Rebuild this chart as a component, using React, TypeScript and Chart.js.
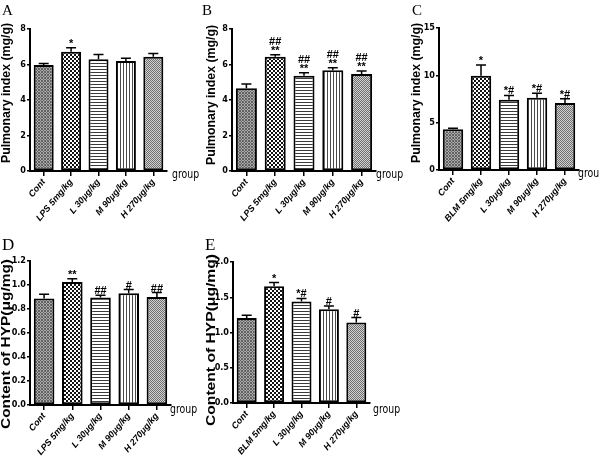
import React, { useEffect, useRef } from "react";
import { Chart, registerables } from "chart.js";
Chart.register(...registerables);

// ---------- data ----------
const groupsLPS = ["Cont", "LPS 5mg/kg", "L 30μg/kg", "M 90μg/kg", "H 270μg/kg"];
const groupsBLM = ["Cont", "BLM 5mg/kg", "L 30μg/kg", "M 90μg/kg", "H 270μg/kg"];

const valuesA = [5.97, 6.72, 6.29, 6.2, 6.44];
const semA = [0.09, 0.23, 0.28, 0.15, 0.18];
const marksA = ["", "*", "", "", ""];

const valuesB = [4.66, 6.44, 5.37, 5.67, 5.46];
const semB = [0.24, 0.11, 0.17, 0.15, 0.17];
const marksB = ["", "##\n**", "##\n**", "##\n**", "##\n**"];

const valuesC = [4.3, 9.95, 7.41, 7.62, 7.09];
const semC = [0.11, 1.15, 0.46, 0.5, 0.43];
const marksC = ["", "*", "*#", "*#", "*#"];

const valuesD = [0.888, 1.025, 0.896, 0.932, 0.901];
const semD = [0.035, 0.027, 0.019, 0.03, 0.036];
const marksD = ["", "**", "##", "#", "##"];

const valuesE = [1.207, 1.657, 1.441, 1.329, 1.141];
const semE = [0.037, 0.052, 0.043, 0.047, 0.07];
const marksE = ["", "*", "*#", "#", "#"];

const patternKinds = ["cont", "check", "hlines", "vlines", "hatch"];

// ---------- layout / style ----------
type Box = { left: number; top: number; width: number; height: number };
type PanelCfg = {
  id: string;
  labels: string[];
  values: number[];
  sem: number[];
  marks: string[];
  yMax: number;
  yStep: number;
  decimals: number;
  title: string;
  titleSize: number;
  titleLen: number;
  letterSize: number;
  box: Box;
  area: { left: number; right: number; top: number; bottom: number };
  titlePos: { x: number; y: number };
  letterPos: { x: number; y: number };
  groupPos: { x: number; y: number };
};

const panels: PanelCfg[] = [
  {
    id: "A", labels: groupsLPS, values: valuesA, sem: semA, marks: marksA,
    yMax: 8, yStep: 2, decimals: 0, title: "Pulmonary index (mg/g)", titleSize: 12, titleLen: 140, letterSize: 15,
    box: { left: 0, top: 0, width: 200, height: 230 },
    area: { left: 30, right: 167, top: 29, bottom: 171 },
    titlePos: { x: 7, y: 93 }, letterPos: { x: 2, y: 15 }, groupPos: { x: 172, y: 178 },
  },
  {
    id: "B", labels: groupsLPS, values: valuesB, sem: semB, marks: marksB,
    yMax: 8, yStep: 2, decimals: 0, title: "Pulmonary index (mg/g)", titleSize: 12, titleLen: 140, letterSize: 15,
    box: { left: 195, top: 0, width: 215, height: 230 },
    area: { left: 232, right: 376, top: 29, bottom: 171 },
    titlePos: { x: 212, y: 95 }, letterPos: { x: 202, y: 15 }, groupPos: { x: 376, y: 178 },
  },
  {
    id: "C", labels: groupsBLM, values: valuesC, sem: semC, marks: marksC,
    yMax: 15, yStep: 5, decimals: 0, title: "Pulmonary index (mg/g)", titleSize: 12, titleLen: 140, letterSize: 15,
    box: { left: 390, top: 0, width: 210, height: 230 },
    area: { left: 439, right: 579, top: 28, bottom: 170 },
    titlePos: { x: 417, y: 93 }, letterPos: { x: 412, y: 15 }, groupPos: { x: 578, y: 177 },
  },
  {
    id: "D", labels: groupsLPS, values: valuesD, sem: semD, marks: marksD,
    yMax: 1.2, yStep: 0.2, decimals: 1, title: "Content of HYP(μg/mg)", titleSize: 13, titleLen: 170, letterSize: 17,
    box: { left: 0, top: 230, width: 200, height: 234 },
    area: { left: 30, right: 171, top: 261, bottom: 405 },
    titlePos: { x: 6, y: 344 }, letterPos: { x: 2, y: 250 }, groupPos: { x: 170, y: 413 },
  },
  {
    id: "E", labels: groupsBLM, values: valuesE, sem: semE, marks: marksE,
    yMax: 2.0, yStep: 0.5, decimals: 1, title: "Content of HYP(μg/mg)", titleSize: 13, titleLen: 172, letterSize: 17,
    box: { left: 200, top: 230, width: 220, height: 234 },
    area: { left: 233, right: 370, top: 262, bottom: 403 },
    titlePos: { x: 211, y: 340 }, letterPos: { x: 205, y: 250 }, groupPos: { x: 373, y: 413 },
  },
];

function makePattern(ctx: CanvasRenderingContext2D, kind: string): CanvasPattern | string {
  const t = document.createElement("canvas");
  const g = t.getContext("2d");
  if (!g) return "#999";
  const px = (x: number, y: number, c: string) => { g.fillStyle = c; g.fillRect(x, y, 1, 1); };
  if (kind === "cont") {
    t.width = 3; t.height = 3;
    g.fillStyle = "#aaaaaa"; g.fillRect(0, 0, 3, 3);
    for (let y = 0; y < 3; y++) for (let x = 0; x < 3; x++) if (x === y || x + y === 2) px(x, y, "#626262");
  } else if (kind === "check") {
    t.width = 4; t.height = 4;
    g.fillStyle = "#fff"; g.fillRect(0, 0, 4, 4);
    g.fillStyle = "#111"; g.fillRect(0, 0, 2, 2); g.fillRect(2, 2, 2, 2);
  } else if (kind === "hlines") {
    t.width = 3; t.height = 3;
    g.fillStyle = "#fff"; g.fillRect(0, 0, 3, 3);
    g.fillStyle = "#3a3a3a"; g.fillRect(0, 0, 3, 1);
  } else if (kind === "vlines") {
    t.width = 3; t.height = 3;
    g.fillStyle = "#fff"; g.fillRect(0, 0, 3, 3);
    g.fillStyle = "#4a4a4a"; g.fillRect(0, 0, 1, 3);
  } else {
    t.width = 2; t.height = 2;
    g.fillStyle = "#d2d2d2"; g.fillRect(0, 0, 2, 2);
    px(0, 0, "#6e6e6e"); px(1, 1, "#6e6e6e");
  }
  return ctx.createPattern(t, "repeat") || "#999";
}

const narrow = "'Liberation Sans Narrow', 'DejaVu Sans Condensed', 'Liberation Sans', Arial, sans-serif";
const sans = "'Liberation Sans', Arial, Helvetica, sans-serif";
const serif = "'Liberation Serif', 'Times New Roman', serif";

function PanelChart({ p }: { p: PanelCfg }) {
  const ref = useRef<HTMLCanvasElement | null>(null);
  useEffect(() => {
    const canvas = ref.current;
    if (!canvas) return;
    const ctx = canvas.getContext("2d");
    if (!ctx) return;
    const fills = patternKinds.map((k) => makePattern(ctx, k));
    const { box, area } = p;

    const overlay = {
      id: "overlay" + p.id,
      afterDatasetsDraw(chart: any) {
        const c = chart.ctx;
        const meta = chart.getDatasetMeta(0);
        const ys = chart.scales.y;
        c.save();
        c.strokeStyle = "#000";
        c.lineWidth = 1.5;
        meta.data.forEach((bar: any, i: number) => {
          const x = bar.x;
          const yTop = ys.getPixelForValue(p.values[i]);
          const yErr = ys.getPixelForValue(p.values[i] + p.sem[i]);
          c.beginPath();
          c.moveTo(x, yTop);
          c.lineTo(x, yErr);
          c.moveTo(x - 5, yErr);
          c.lineTo(x + 5, yErr);
          c.stroke();
          const lines = p.marks[i] ? p.marks[i].split("\n").reverse() : [];
          c.fillStyle = "#000";
          c.font = `bold 11px ${sans}`;
          c.textAlign = "center";
          c.textBaseline = "alphabetic";
          lines.forEach((t: string, k: number) => c.fillText(t, x, yErr - 1 - k * 9));
        });
        c.restore();
      },
      afterDraw(chart: any) {
        const c = chart.ctx;
        c.save();
        c.fillStyle = "#000";
        // y title, stretched to its measured length
        c.save();
        c.translate(p.titlePos.x - box.left, p.titlePos.y - box.top);
        c.rotate(-Math.PI / 2);
        c.font = `bold ${p.titleSize}px ${sans}`;
        const w = c.measureText(p.title).width;
        c.scale(p.titleLen / w, 1);
        c.textAlign = "center";
        c.textBaseline = "middle";
        c.fillText(p.title, 0, 0);
        c.restore();
        // panel letter
        c.font = `${p.letterSize}px ${serif}`;
        c.textAlign = "left";
        c.textBaseline = "alphabetic";
        c.fillText(p.id, p.letterPos.x - box.left, p.letterPos.y - box.top);
        // group
        c.save();
        c.translate(p.groupPos.x - box.left, p.groupPos.y - box.top);
        c.scale(0.8, 1);
        c.font = `13px ${narrow}`;
        c.fillText("group", 0, 0);
        c.restore();
        c.restore();
      },
    };

    const chart = new Chart(canvas, {
      type: "bar",
      data: {
        labels: p.labels,
        datasets: [
          {
            data: p.values,
            backgroundColor: fills as any,
            borderColor: "#000",
            borderWidth: 2,
            borderSkipped: false,
            barPercentage: 0.73,
            categoryPercentage: 1,
          },
        ],
      },
      options: {
        responsive: false,
        animation: false,
        devicePixelRatio: 1,
        layout: {
          padding: {
            left: 0,
            right: box.left + box.width - area.right,
            top: area.top - box.top,
            bottom: 0,
          },
        },
        plugins: { legend: { display: false }, tooltip: { enabled: false } },
        scales: {
          x: {
            grid: { offset: false, drawOnChartArea: false, drawTicks: true, tickLength: 5, color: "#000", lineWidth: 1.5 },
            border: { display: true, color: "#000", width: 2 },
            ticks: {
              autoSkip: false,
              minRotation: 50,
              maxRotation: 50,
              padding: 1,
              color: "#000",
              font: { family: sans, size: 9, style: "italic", weight: "bold" },
            },
            afterFit: (s: any) => { s.height = box.top + box.height - area.bottom; },
          },
          y: {
            min: 0,
            max: p.yMax,
            grid: { drawOnChartArea: false, drawTicks: true, tickLength: 3, color: "#000", lineWidth: 1.5 },
            border: { display: true, color: "#000", width: 2 },
            ticks: {
              stepSize: p.yStep,
              padding: 1,
              color: "#000",
              font: { family: narrow, size: 9, weight: "bold" },
              callback: (v: any) => Number(v).toFixed(p.decimals),
            },
            afterFit: (s: any) => { s.width = area.left - box.left; },
          },
        },
      },
      plugins: [overlay],
    } as any);
    return () => chart.destroy();
  }, [p]);
  return (
    <canvas
      ref={ref}
      width={p.box.width}
      height={p.box.height}
      style={{ position: "absolute", left: p.box.left, top: p.box.top, width: p.box.width, height: p.box.height }}
    />
  );
}

export default function App() {
  return (
    <div style={{ position: "fixed", left: 0, top: 0, width: 600, height: 464, background: "#fff", overflow: "hidden" }}>
      {panels.map((p) => (
        <PanelChart key={p.id} p={p} />
      ))}
    </div>
  );
}
